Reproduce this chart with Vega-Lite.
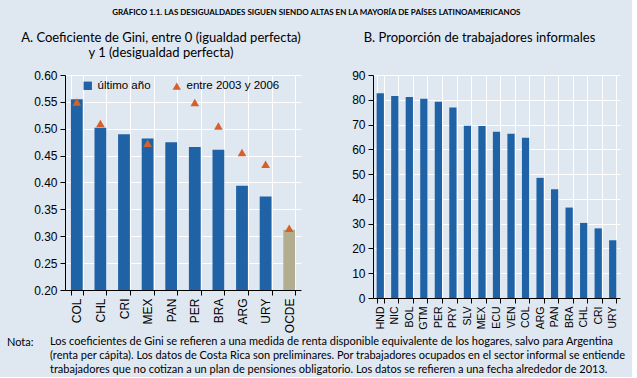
{
  "$schema": "https://vega.github.io/schema/vega-lite/v6.json",
  "background": "#dfe7f1",
  "padding": {"left": 7, "right": 6, "top": 9, "bottom": 2},
  "config": {
    "view": {"stroke": null},
    "font": "Liberation Sans",
    "axis": {
      "domainColor": "#000000",
      "tickColor": "#000000",
      "labelColor": "#000000",
      "gridColor": "#ffffff",
      "gridWidth": 1,
      "labelFont": "Liberation Sans",
      "labelFontSize": 12,
      "tickSize": 5,
      "labelPadding": 3
    },
    "title": {"color": "#000000"}
  },
  "title": {
    "text": "GRÁFICO 1.1. LAS DESIGUALDADES SIGUEN SIENDO ALTAS EN LA MAYORÍA DE PAÍSES LATINOAMERICANOS",
    "font": "Lato",
    "fontSize": 8,
    "fontWeight": "bold",
    "anchor": "middle",
    "offset": 15
  },
  "vconcat": [
    {
      "title": {
        "text": "Nota:",
        "orient": "bottom",
        "anchor": "start",
        "frame": "group",
        "dx": -58,
        "dy": -38,
        "font": "Lato",
        "fontSize": 11,
        "fontWeight": "normal",
        "offset": 0
      },
      "vconcat": [
        {
          "title": {
            "text": [
              "Los coeficientes de Gini se refieren a una medida de renta disponible equivalente de los hogares, salvo para Argentina",
              "(renta per cápita). Los datos de Costa Rica son preliminares. Por trabajadores ocupados en el sector informal se entiende",
              "trabajadores que no cotizan a un plan de pensiones obligatorio. Los datos se refieren a una fecha alrededor de 2013."
            ],
            "orient": "bottom",
            "anchor": "start",
            "frame": "group",
            "dx": -15,
            "font": "Lato",
            "fontSize": 11,
            "fontWeight": "normal",
            "lineHeight": 14,
            "offset": 3
          },
          "spacing": 72,
          "bounds": "flush",
          "hconcat": [
            {
              "width": 236,
              "height": 215,
              "title": {
                "text": ["A. Coeficiente de Gini, entre 0 (igualdad perfecta)", "y 1 (desigualdad perfecta)"],
                "font": "Lato",
                "fontSize": 13,
                "fontWeight": "normal",
                "lineHeight": 15,
                "frame": "group",
                "dx": -22,
                "offset": 9
              },
              "data": {
                "values": [
                  {"pais": "COL", "serie": "último año", "valor": 0.555},
                  {"pais": "CHL", "serie": "último año", "valor": 0.502},
                  {"pais": "CRI", "serie": "último año", "valor": 0.490},
                  {"pais": "MEX", "serie": "último año", "valor": 0.482},
                  {"pais": "PAN", "serie": "último año", "valor": 0.475},
                  {"pais": "PER", "serie": "último año", "valor": 0.466},
                  {"pais": "BRA", "serie": "último año", "valor": 0.461},
                  {"pais": "ARG", "serie": "último año", "valor": 0.394},
                  {"pais": "URY", "serie": "último año", "valor": 0.374},
                  {"pais": "OCDE", "serie": "OCDE", "valor": 0.312},
                  {"pais": "COL", "serie": "entre 2003 y 2006", "valor": 0.550},
                  {"pais": "CHL", "serie": "entre 2003 y 2006", "valor": 0.510},
                  {"pais": "MEX", "serie": "entre 2003 y 2006", "valor": 0.473},
                  {"pais": "PER", "serie": "entre 2003 y 2006", "valor": 0.549},
                  {"pais": "BRA", "serie": "entre 2003 y 2006", "valor": 0.505},
                  {"pais": "ARG", "serie": "entre 2003 y 2006", "valor": 0.456},
                  {"pais": "URY", "serie": "entre 2003 y 2006", "valor": 0.434},
                  {"pais": "OCDE", "serie": "entre 2003 y 2006", "valor": 0.315}
                ]
              },
              "encoding": {
                "x": {
                  "field": "pais",
                  "type": "nominal",
                  "sort": ["COL", "CHL", "CRI", "MEX", "PAN", "PER", "BRA", "ARG", "URY", "OCDE"],
                  "scale": {"paddingInner": 0.5, "paddingOuter": 0.25},
                  "axis": {
                    "title": null,
                    "labelAngle": -90,
                    "labelAlign": "right",
                    "labelBaseline": "middle",
                    "tickBand": "extent",
                    "grid": true,
                    "labelFontSize": 12
                  }
                },
                "y": {
                  "field": "valor",
                  "type": "quantitative",
                  "scale": {"domain": [0.2, 0.6], "zero": false},
                  "axis": {
                    "title": null,
                    "format": ".2f",
                    "values": [0.2, 0.25, 0.3, 0.35, 0.4, 0.45, 0.5, 0.55, 0.6],
                    "grid": true
                  }
                },
                "color": {
                  "field": "serie",
                  "type": "nominal",
                  "scale": {
                    "domain": ["último año", "entre 2003 y 2006", "OCDE"],
                    "range": ["#1f63a6", "#d6602a", "#b3ad90"]
                  },
                  "legend": {
                    "title": null,
                    "values": ["último año", "entre 2003 y 2006"],
                    "orient": "none",
                    "legendX": 17,
                    "legendY": 5,
                    "direction": "horizontal",
                    "columnPadding": 18,
                    "labelFont": "Liberation Sans",
                    "labelFontSize": 11.5,
                    "labelColor": "#000000",
                    "symbolSize": 70,
                    "symbolOpacity": 1
                  }
                }
              },
              "layer": [
                {
                  "transform": [{"filter": "datum.serie != 'entre 2003 y 2006'"}],
                  "mark": {"type": "bar"},
                  "encoding": {"y2": {"datum": 0.2}}
                },
                {
                  "transform": [{"filter": "datum.serie == 'entre 2003 y 2006'"}],
                  "mark": {"type": "point", "filled": true, "opacity": 1, "size": 75},
                  "encoding": {
                    "shape": {
                      "field": "serie",
                      "type": "nominal",
                      "scale": {
                        "domain": ["último año", "entre 2003 y 2006", "OCDE"],
                        "range": ["square", "triangle-up", "square"]
                      },
                      "legend": {
                        "title": null,
                        "values": ["último año", "entre 2003 y 2006"],
                        "orient": "none",
                        "legendX": 17,
                        "legendY": 5,
                        "direction": "horizontal",
                        "columnPadding": 18,
                        "labelFont": "Liberation Sans",
                        "labelFontSize": 11.5,
                        "labelColor": "#000000",
                        "symbolSize": 70,
                        "symbolOpacity": 1
                      }
                    }
                  }
                }
              ]
            },
            {
              "width": 247,
              "height": 223,
              "title": {
                "text": "B. Proporción de trabajadores informales",
                "font": "Lato",
                "fontSize": 13,
                "fontWeight": "normal",
                "frame": "group",
                "dx": -17,
                "offset": 24
              },
              "data": {
                "values": [
                  {"pais": "HND", "valor": 82.6},
                  {"pais": "NIC", "valor": 81.5},
                  {"pais": "BOL", "valor": 81.1},
                  {"pais": "GTM", "valor": 80.4},
                  {"pais": "PER", "valor": 79.2},
                  {"pais": "PRY", "valor": 76.9},
                  {"pais": "SLV", "valor": 69.5},
                  {"pais": "MEX", "valor": 69.4},
                  {"pais": "ECU", "valor": 67.1},
                  {"pais": "VEN", "valor": 66.3},
                  {"pais": "COL", "valor": 64.7},
                  {"pais": "ARG", "valor": 48.5},
                  {"pais": "PAN", "valor": 43.9},
                  {"pais": "BRA", "valor": 36.5},
                  {"pais": "CHL", "valor": 30.3},
                  {"pais": "CRI", "valor": 28.1},
                  {"pais": "URY", "valor": 23.3}
                ]
              },
              "mark": {"type": "bar", "color": "#1f63a6"},
              "encoding": {
                "x": {
                  "field": "pais",
                  "type": "nominal",
                  "sort": null,
                  "scale": {"paddingInner": 0.5, "paddingOuter": 0.25},
                  "axis": {
                    "title": null,
                    "labelAngle": -90,
                    "labelAlign": "right",
                    "labelBaseline": "middle",
                    "tickBand": "extent",
                    "grid": true,
                    "labelFont": "Liberation Sans",
                    "labelFontSize": 10.5
                  }
                },
                "y": {
                  "field": "valor",
                  "type": "quantitative",
                  "scale": {"domain": [0, 90]},
                  "axis": {
                    "title": null,
                    "values": [0, 10, 20, 30, 40, 50, 60, 70, 80, 90],
                    "grid": true
                  }
                }
              }
            }
          ]
        }
      ]
    }
  ]
}
